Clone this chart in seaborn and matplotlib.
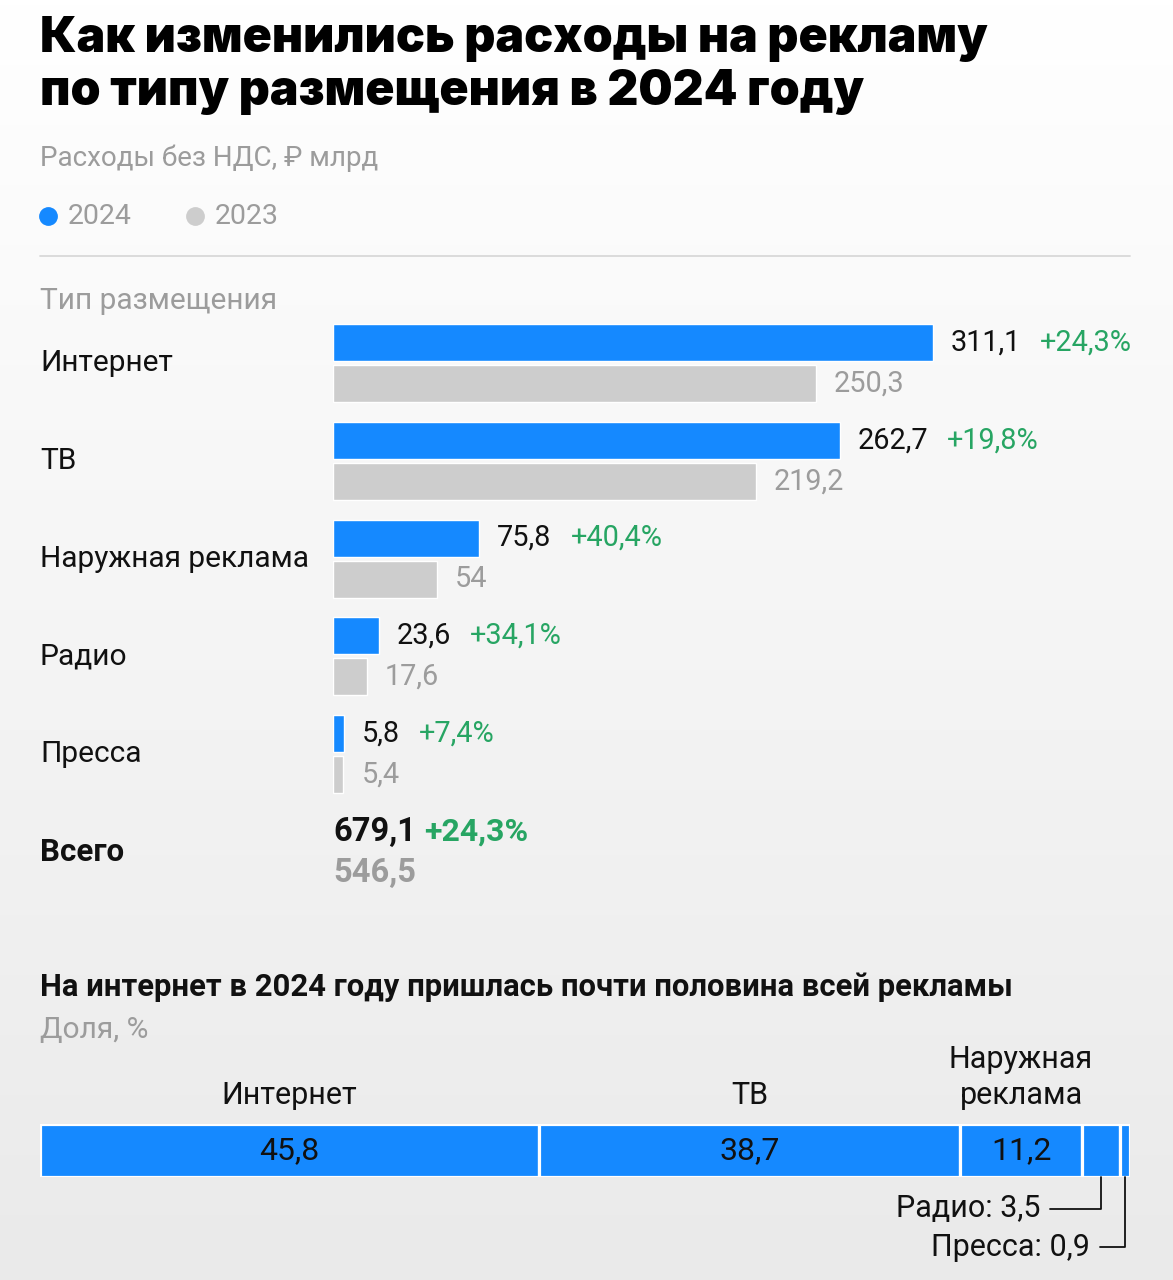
import numpy as np
import pandas as pd
import matplotlib
matplotlib.use("Agg")
import matplotlib.pyplot as plt
import seaborn as sns
from matplotlib import transforms as mtrans
from matplotlib.lines import Line2D
from matplotlib.colors import LinearSegmentedColormap

# ---------------- data ----------------
categories = ["Интернет", "ТВ", "Наружная реклама", "Радио", "Пресса"]
values_2024 = [311.1, 262.7, 75.8, 23.6, 5.8]
values_2023 = [250.3, 219.2, 54.0, 17.6, 5.4]
growth_labels = ["+24,3%", "+19,8%", "+40,4%", "+34,1%", "+7,4%"]
total_label = "Всего"
total_2024 = 679.1
total_2023 = 546.5
total_growth = "+24,3%"
years = ["2024", "2023"]

share_categories = ["Интернет", "ТВ", "Наружная\nреклама", "Радио", "Пресса"]
share_values = [45.8, 38.7, 11.2, 3.5, 0.9]

# ---------------- style ----------------
BLUE = "#1589ff"
GREY_BAR = "#cdcdcd"
GREY_TXT = "#9c9c9c"
GREEN = "#27a563"
BLACK = "#111111"
FS = 21.5       # regular text
FS_VAL = 20.8   # bar values
FS_TOT = 23.5   # bold totals

sns.set_theme(style="white")
plt.rcParams["font.family"] = ["Roboto", "DejaVu Sans"]
TITLE_FONT = ["Inter", "Roboto", "DejaVu Sans"]

W, H = 1173, 1280
fig = plt.figure(figsize=(W / 100, H / 100), dpi=100)


def fx(px):
    return px / W


def fy(py):
    return 1 - py / H


def fmt(v):
    s = f"{v:.1f}".replace(".", ",")
    if s.endswith(",0"):
        s = s[:-2]
    return s


# background gradient
bg = fig.add_axes([0, 0, 1, 1], zorder=-10)
grad = np.linspace(0, 1, 256).reshape(-1, 1)
cmap = LinearSegmentedColormap.from_list("bg", ["#ffffff", "#eaeaea"])
bg.imshow(grad, aspect="auto", cmap=cmap, extent=[0, 1, 0, 1], origin="upper")
bg.set_axis_off()

# ---------------- header ----------------
fig.text(fx(40), fy(52), "Как изменились расходы на рекламу", family=TITLE_FONT,
         fontweight="black", fontsize=34.7, color="#000000", va="baseline", ha="left")
fig.text(fx(40), fy(105), "по типу размещения в 2024 году", family=TITLE_FONT,
         fontweight="black", fontsize=34.7, color="#000000", va="baseline", ha="left")
fig.text(fx(40), fy(166), "Расходы без НДС, ₽ млрд", fontsize=20, color=GREY_TXT,
         va="baseline", ha="left")

# legend
for x_dot, col, lab in [(48, BLUE, years[0]), (195, GREY_BAR, years[1])]:
    fig.add_artist(Line2D([fx(x_dot)], [fy(216)], marker="o", markersize=12.5,
                          color=col, linestyle="none", transform=fig.transFigure))
    fig.text(fx(x_dot + 20), fy(216), lab, fontsize=20.5, color=GREY_TXT,
             va="center", ha="left")

fig.add_artist(Line2D([fx(40), fx(1130)], [fy(256), fy(256)], color="#d8d8d8",
                      lw=1.3, transform=fig.transFigure))
fig.text(fx(40), fy(301), "Тип размещения", fontsize=FS, color=GREY_TXT,
         va="center", ha="left")

# ---------------- main grouped bars ----------------
ax = fig.add_axes([fx(333), fy(901), fx(1130) - fx(333), (901 - 314) / H])
ax.set_facecolor("none")
df = pd.DataFrame({
    "category": categories * 2,
    "year": [years[0]] * len(categories) + [years[1]] * len(categories),
    "value": values_2024 + values_2023,
})
sns.barplot(data=df, y="category", x="value", hue="year", order=categories,
            hue_order=years, palette={years[0]: BLUE, years[1]: GREY_BAR},
            orient="h", width=0.84, gap=0.1, saturation=1, legend=False, ax=ax)
ax.set_xlim(0, 413.2)
ax.set_ylim(5.5, -0.5)
ax.set_axis_off()

lab_tr = mtrans.blended_transform_factory(fig.transFigure, ax.transData)
off = 0.21
for i, cat in enumerate(categories):
    ax.text(fx(40), i, cat, transform=lab_tr, fontsize=FS, color=BLACK,
            va="center", ha="left")
    t = ax.annotate(fmt(values_2024[i]), xy=(values_2024[i], i - off),
                    xytext=(18, 0), textcoords="offset pixels", fontsize=FS_VAL,
                    color=BLACK, va="center", ha="left")
    ax.annotate(growth_labels[i], xy=(1, 0.5), xycoords=t, xytext=(19, 0),
                textcoords="offset pixels", fontsize=FS_VAL, color=GREEN,
                va="center", ha="left")
    ax.annotate(fmt(values_2023[i]), xy=(values_2023[i], i + off),
                xytext=(18, 0), textcoords="offset pixels", fontsize=FS_VAL,
                color=GREY_TXT, va="center", ha="left")

n = len(categories)
ax.text(fx(40), n, total_label, transform=lab_tr, fontsize=22.5, color=BLACK,
        fontweight="bold", va="center", ha="left")
t = ax.text(0, n - off, fmt(total_2024), fontsize=FS_TOT, color=BLACK,
            fontweight="bold", va="center", ha="left")
ax.annotate(total_growth, xy=(1, 0.5), xycoords=t, xytext=(8, 0),
            textcoords="offset pixels", fontsize=FS_TOT - 0.5, color=GREEN,
            fontweight="bold", va="center", ha="left")
ax.text(0, n + off, fmt(total_2023), fontsize=FS_TOT, color=GREY_TXT,
        fontweight="bold", va="center", ha="left")

# ---------------- share section ----------------
fig.text(fx(40), fy(987), "На интернет в 2024 году пришлась почти половина всей рекламы",
         fontsize=22.3, fontweight="bold", color=BLACK, va="center", ha="left")
fig.text(fx(40), fy(1030), "Доля, %", fontsize=FS, color=GREY_TXT,
         va="center", ha="left")

ax2 = fig.add_axes([fx(40), fy(1177), fx(1130) - fx(40), 53 / H])
ax2.set_facecolor("none")
lefts = np.concatenate([[0], np.cumsum(share_values)[:-1]])
ax2.barh([0] * len(share_values), share_values, left=lefts, height=1.0,
         color=BLUE, edgecolor="white", linewidth=2.3)
ax2.set_xlim(0, sum(share_values))
ax2.set_ylim(-0.5, 0.5)
ax2.set_axis_off()

for i in range(3):
    cx = lefts[i] + share_values[i] / 2
    ax2.text(cx, 0, fmt(share_values[i]), fontsize=23, color=BLACK,
             ha="center", va="center")
    ax2.annotate(share_categories[i], xy=(cx, 0.5), xytext=(0, 14),
                 textcoords="offset pixels", fontsize=22, color=BLACK,
                 ha="center", va="bottom", linespacing=1.3)

callouts = [(3, (-61, -32)), (4, (-35, -70))]
for i, (dx, dy) in callouts:
    cx = lefts[i] + share_values[i] / 2
    ax2.annotate(f"{share_categories[i]}: {fmt(share_values[i])}", xy=(cx, -0.5),
                 xytext=(dx, dy), textcoords="offset pixels", fontsize=22,
                 color=BLACK, ha="right", va="center",
                 arrowprops=dict(arrowstyle="-", color=BLACK, lw=1.3,
                                 connectionstyle="angle,angleA=0,angleB=90,rad=0",
                                 shrinkA=5, shrinkB=0))

fig.savefig("out.png", dpi=100)
